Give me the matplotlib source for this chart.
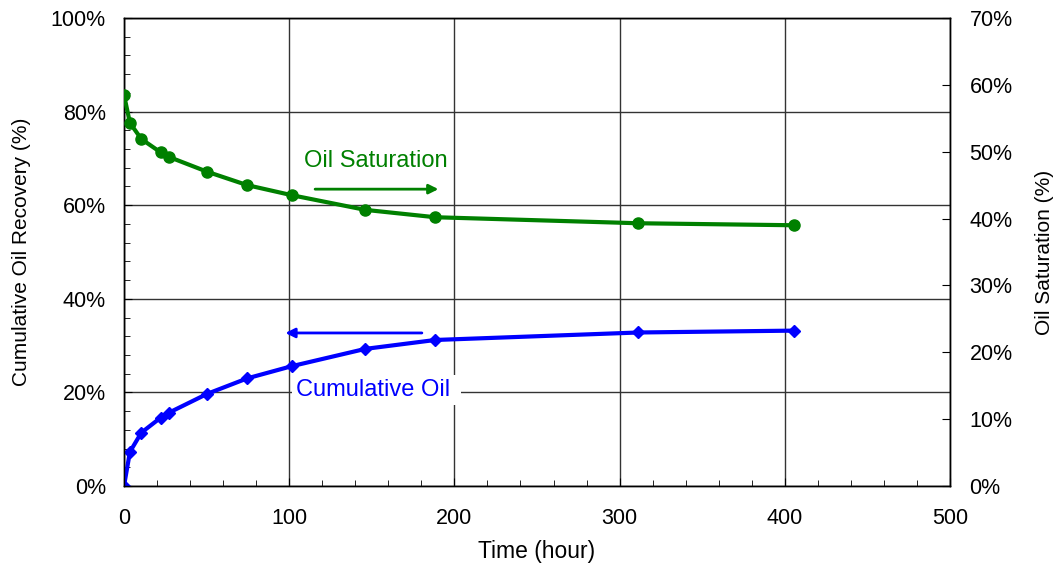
import numpy as np
import matplotlib.pyplot as plt
from matplotlib.ticker import MultipleLocator, FuncFormatter

plt.rcParams['font.family'] = ['Liberation Sans', 'DejaVu Sans']

# time (hour)
t = [0, 3.6, 10.5, 22.2, 27.4, 50.4, 74.6, 101.5, 146.1, 188.4, 311.3, 405.6]
# cumulative oil recovery (%), left axis
recovery = [0, 7.3, 11.4, 14.6, 15.7, 19.7, 23.0, 25.6, 29.3, 31.2, 32.8, 33.2]
# oil saturation (%), right axis
saturation = [58.5, 54.3, 51.9, 49.9, 49.2, 47.0, 45.0, 43.5, 41.3, 40.2, 39.3, 39.0]

fig = plt.figure(figsize=(10.6, 5.71), dpi=100)
ax = fig.add_axes([124/1060, 1 - 486/571, 826/1060, 468/571])
ax2 = ax.twinx()

pct = FuncFormatter(lambda v, p: f"{v:.0f}%")

ax.set_xlim(0, 500)
ax.set_ylim(0, 100)
ax2.set_ylim(0, 70)

ax.xaxis.set_major_locator(MultipleLocator(100))
ax.xaxis.set_minor_locator(MultipleLocator(20))
ax.yaxis.set_major_locator(MultipleLocator(20))
ax.yaxis.set_minor_locator(MultipleLocator(4))
ax.yaxis.set_major_formatter(pct)
ax2.yaxis.set_major_locator(MultipleLocator(10))
ax2.yaxis.set_major_formatter(pct)

ax.grid(True, which='major', color='#333333', lw=1)
ax.set_axisbelow(True)

ax.tick_params(which='both', direction='in', labelsize=15.5, top=False)
ax.tick_params(axis='y', which='major', length=6, pad=13)
ax.tick_params(axis='x', which='major', length=6, pad=16)
ax.tick_params(which='minor', length=4)
ax2.tick_params(which='both', direction='in', labelsize=15.5, length=6, pad=14)

for a in (ax, ax2):
    for s in a.spines.values():
        s.set_color('black')
        s.set_linewidth(1)

ax.plot(t, recovery, color='#0000ff', lw=3, marker='D', ms=6, zorder=5)
ax2.plot(t, saturation, color='#008000', lw=3, marker='o', ms=8, zorder=5)

ax.set_xlabel('Time (hour)', fontsize=16.5, labelpad=8)
ax.set_ylabel('Cumulative Oil Recovery (%)', fontsize=15, labelpad=14)
ax2.set_ylabel('Oil Saturation (%)', fontsize=15, labelpad=16)

# annotations
ax2.text(109, 48.6, 'Oil Saturation', color='#008000', fontsize=17, ha='left', va='center')
ax2.annotate('', xy=(192, 44.4), xytext=(114, 44.4),
             arrowprops=dict(arrowstyle='-|>', color='#008000', lw=2, mutation_scale=14))
ax.text(104, 20.5, 'Cumulative Oil ', color='#0000ff', fontsize=17, ha='left', va='center',
        bbox=dict(facecolor='white', edgecolor='none', pad=3), zorder=4)
ax.annotate('', xy=(96, 32.7), xytext=(182, 32.7),
            arrowprops=dict(arrowstyle='-|>', color='#0000ff', lw=2, mutation_scale=14))

fig.savefig('out.png', dpi=100)
